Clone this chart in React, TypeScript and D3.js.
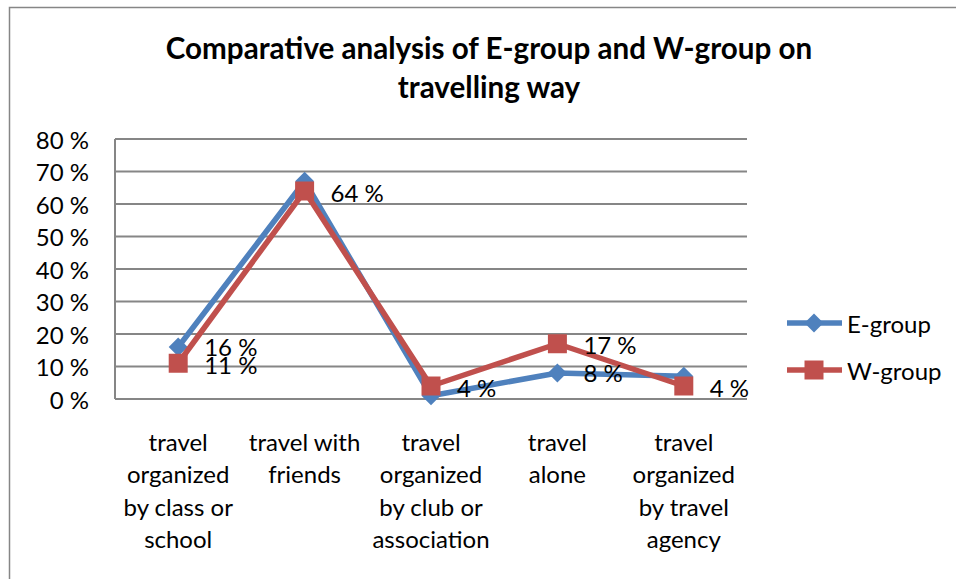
import React from "react";
import * as d3 from "d3";

const categories: string[][] = [
  ["travel", "organized", "by class or", "school"],
  ["travel with", "friends"],
  ["travel", "organized", "by club or", "association"],
  ["travel", "alone"],
  ["travel", "organized", "by travel", "agency"],
];
const eGroup = [0.16, 0.67, 0.01, 0.08, 0.07];
const wGroup = [0.11, 0.64, 0.04, 0.17, 0.04];
const eLabelShown = [true, false, false, true, false];
const wLabelShown = [true, true, true, true, true];
const yTicks = [0, 0.1, 0.2, 0.3, 0.4, 0.5, 0.6, 0.7, 0.8];
const titleLines = ["Comparative analysis of E-group and W-group on", "travelling way"];
const seriesNames = ["E-group", "W-group"];

const W = 956;
const H = 579;
const BLUE = "#4F81BD";
const RED = "#C0504D";
const GRID = "#868686";
const FONT = "Lato, 'Open Sans', sans-serif";

const pct = (v: number) => `${Math.round(v * 100)} %`;

export default function App() {
  const x = d3
    .scaleBand<number>()
    .domain(categories.map((_, i) => i))
    .range([115, 747]);
  const cx = (i: number) => (x(i) as number) + x.bandwidth() / 2;
  const y = d3.scaleLinear().domain([0, 0.8]).range([399, 139]);
  const line = d3
    .line<number>()
    .x((_, i) => cx(i))
    .y((d) => y(d));

  const diamond = (px: number, py: number, s: number) =>
    `M${px},${py - s}L${px + s},${py}L${px},${py + s}L${px - s},${py}Z`;
  const square = (px: number, py: number, s: number) =>
    `M${px - s},${py - s}H${px + s}V${py + s}H${px - s}Z`;

  const labelSize = 24;

  return (
    <div style={{ position: "fixed", left: 0, top: 0, width: W, height: H, background: "#fff" }}>
      <svg width={W} height={H} style={{ display: "block" }} fontFamily={FONT}>
        <rect x={0} y={0} width={W} height={H} fill="#fff" />
        <rect x={9.5} y={7.5} width={W + 20} height={H + 20} fill="none" stroke={GRID} strokeWidth={1.5} />
        {/* title */}
        {titleLines.map((t, i) => (
          <text
            key={t}
            x={489}
            y={59 + i * 39}
            textAnchor="middle"
            fontSize={29.6}
            fontWeight="bold"
            fill="#000"
          >
            {t}
          </text>
        ))}
        {/* gridlines */}
        {yTicks.map((t) => (
          <line key={t} x1={115} x2={747} y1={y(t)} y2={y(t)} stroke={GRID} strokeWidth={2} />
        ))}
        <line x1={115} x2={115} y1={y(0.8)} y2={y(0)} stroke={GRID} strokeWidth={2} />
        {/* y tick labels */}
        {yTicks.map((t) => (
          <text
            key={"l" + t}
            x={89}
            y={y(t)}
            textAnchor="end"
            dominantBaseline="central"
            fontSize={labelSize}
            fill="#000"
          >
            {pct(t)}
          </text>
        ))}
        {/* category labels */}
        {categories.map((lines, i) => (
          <text key={"c" + i} textAnchor="middle" fontSize={labelSize} fill="#000">
            {lines.map((ln, j) => (
              <tspan key={j} x={cx(i)} y={441 + j * 32.5} dominantBaseline="central">
                {ln}
              </tspan>
            ))}
          </text>
        ))}
        {/* E series */}
        <path d={line(eGroup) || ""} fill="none" stroke={BLUE} strokeWidth={5.5} strokeLinejoin="round" />
        {eGroup.map((v, i) => (
          <path key={"ed" + i} d={diamond(cx(i), y(v), 9.5)} fill={BLUE} />
        ))}
        {/* W series */}
        <path d={line(wGroup) || ""} fill="none" stroke={RED} strokeWidth={5.5} strokeLinejoin="round" />
        {wGroup.map((v, i) => (
          <path key={"ws" + i} d={square(cx(i), y(v), 9.5)} fill={RED} />
        ))}
        {/* data labels */}
        {eGroup.map((v, i) =>
          eLabelShown[i] ? (
            <text key={"el" + i} x={cx(i) + 26} y={y(v) - 1} dominantBaseline="central" fontSize={labelSize} fill="#000">
              {pct(v)}
            </text>
          ) : null
        )}
        {wGroup.map((v, i) =>
          wLabelShown[i] ? (
            <text key={"wl" + i} x={cx(i) + 26} y={y(v) + 1} dominantBaseline="central" fontSize={labelSize} fill="#000">
              {pct(v)}
            </text>
          ) : null
        )}
        {/* legend */}
        {seriesNames.map((n, i) => {
          const ly = 323 + i * 47;
          return (
            <g key={n}>
              <line x1={787} x2={842} y1={ly} y2={ly} stroke={i === 0 ? BLUE : RED} strokeWidth={5.5} />
              <path d={i === 0 ? diamond(814, ly, 9.5) : square(814, ly, 9.5)} fill={i === 0 ? BLUE : RED} />
              <text x={847} y={ly} dominantBaseline="central" fontSize={labelSize} fill="#000">
                {n}
              </text>
            </g>
          );
        })}
      </svg>
    </div>
  );
}
